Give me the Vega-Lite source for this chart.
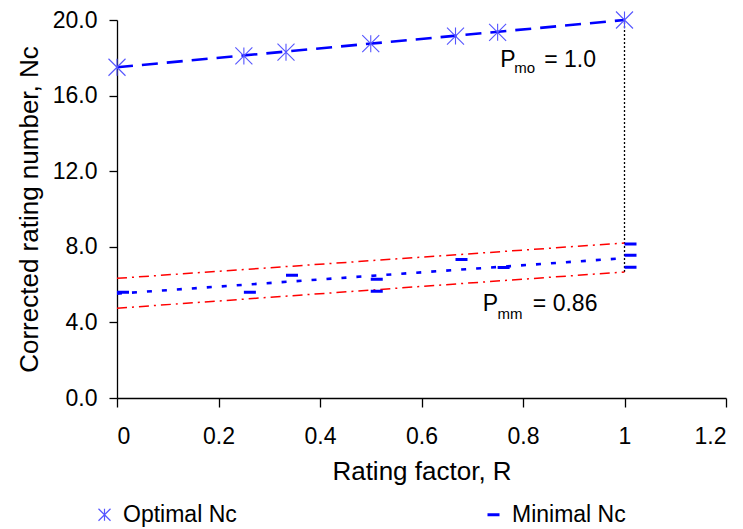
{
  "$schema": "https://vega.github.io/schema/vega-lite/v6.json",
  "autosize": {"type": "none"},
  "padding": {"left": 117, "top": 20, "right": 17, "bottom": 131},
  "width": 609,
  "height": 378,
  "config": {
    "view": {"stroke": null},
    "font": "Liberation Sans",
    "axis": {
      "grid": false,
      "domainColor": "#000000",
      "tickColor": "#000000",
      "labelColor": "#000000",
      "titleColor": "#000000",
      "labelFont": "Liberation Sans",
      "titleFont": "Liberation Sans",
      "labelFontSize": 23,
      "titleFontSize": 26,
      "titleFontWeight": "normal",
      "domainWidth": 1.3,
      "tickWidth": 1.3
    }
  },
  "datasets": {
    "points": [
      {"R": 0, "Nc": 17.5, "series": "Optimal Nc"},
      {"R": 0.25, "Nc": 18.1, "series": "Optimal Nc"},
      {"R": 0.333, "Nc": 18.3, "series": "Optimal Nc"},
      {"R": 0.5, "Nc": 18.75, "series": "Optimal Nc"},
      {"R": 0.667, "Nc": 19.15, "series": "Optimal Nc"},
      {"R": 0.75, "Nc": 19.35, "series": "Optimal Nc"},
      {"R": 1.0, "Nc": 20.0, "series": "Optimal Nc"},
      {"R": 0, "Nc": 5.6, "series": "Minimal Nc"},
      {"R": 0.25, "Nc": 5.6, "series": "Minimal Nc"},
      {"R": 0.333, "Nc": 6.5, "series": "Minimal Nc"},
      {"R": 0.5, "Nc": 6.28, "series": "Minimal Nc"},
      {"R": 0.5, "Nc": 5.65, "series": "Minimal Nc"},
      {"R": 0.667, "Nc": 7.33, "series": "Minimal Nc"},
      {"R": 0.75, "Nc": 6.9, "series": "Minimal Nc"},
      {"R": 1.0, "Nc": 8.15, "series": "Minimal Nc"},
      {"R": 1.0, "Nc": 7.55, "series": "Minimal Nc"},
      {"R": 1.0, "Nc": 6.92, "series": "Minimal Nc"}
    ],
    "lines": [
      {"R": 0, "Nc": 17.5, "line": "opt"},
      {"R": 1, "Nc": 20.0, "line": "opt"},
      {"R": 0, "Nc": 5.52, "line": "min"},
      {"R": 1, "Nc": 7.4, "line": "min"},
      {"R": 0, "Nc": 6.33, "line": "upper"},
      {"R": 1, "Nc": 8.2, "line": "upper"},
      {"R": 0, "Nc": 4.75, "line": "lower"},
      {"R": 1, "Nc": 6.67, "line": "lower"},
      {"R": 1, "Nc": 6.67, "line": "vert"},
      {"R": 1, "Nc": 20.0, "line": "vert"}
    ],
    "mainText": [
      {"R": 0.755, "Nc": 17.9, "label": "P"},
      {"R": 0.8417, "Nc": 17.9, "label": "= 1.0"},
      {"R": 0.7209, "Nc": 4.95, "label": "P"},
      {"R": 0.8194, "Nc": 4.95, "label": "= 0.86"}
    ],
    "subText": [
      {"R": 0.7826, "Nc": 17.45, "label": "mo"},
      {"R": 0.7497, "Nc": 4.45, "label": "mm"}
    ]
  },
  "encoding": {
    "x": {
      "field": "R", "type": "quantitative",
      "scale": {"domain": [0, 1.2], "nice": false},
      "axis": {"values": [0, 0.2, 0.4, 0.6, 0.8, 1, 1.2], "format": "~g", "title": "Rating factor, R", "tickSize": 9, "labelPadding": 18, "titlePadding": 10}
    },
    "y": {
      "field": "Nc", "type": "quantitative",
      "scale": {"domain": [0, 20], "nice": false},
      "axis": {"values": [0, 4, 8, 12, 16, 20], "format": ".1f", "title": "Corrected rating number, Nᴄ", "tickSize": 8, "labelPadding": 12, "titlePadding": 10}
    }
  },
  "layer": [
    {
      "data": {"name": "lines"},
      "transform": [{"filter": "datum.line === 'vert'"}],
      "mark": {"type": "line", "color": "#000000", "strokeWidth": 1.3, "strokeDash": [2, 2]}
    },
    {
      "data": {"name": "lines"},
      "transform": [{"filter": "datum.line === 'opt'"}],
      "mark": {"type": "line", "color": "#0000ff", "strokeWidth": 2.6, "strokeDash": [16, 9]}
    },
    {
      "data": {"name": "lines"},
      "transform": [{"filter": "datum.line === 'min'"}],
      "mark": {"type": "line", "color": "#0000ff", "strokeWidth": 2.6, "strokeDash": [5, 10]}
    },
    {
      "data": {"name": "lines"},
      "transform": [{"filter": "datum.line === 'upper' || datum.line === 'lower'"}],
      "mark": {"type": "line", "color": "#ff0000", "strokeWidth": 1.5, "strokeDash": [10, 5, 2, 5]},
      "encoding": {"detail": {"field": "line"}}
    },
    {
      "data": {"name": "points"},
      "transform": [{"filter": "datum.series === 'Optimal Nc'"}],
      "mark": {"type": "point", "filled": false, "strokeWidth": 1.1, "size": 289, "opacity": 1},
      "encoding": {
        "shape": {"field": "series", "type": "nominal", "scale": {"domain": ["Optimal Nc", "Minimal Nc"], "range": ["M-1,-1L1,1M-1,1L1,-1M0,-1L0,1", "M-1,-0.15L1,-0.15M-1,0L1,0M-1,0.15L1,0.15"]}},
        "color": {
          "field": "series", "type": "nominal",
          "scale": {"domain": ["Optimal Nc", "Minimal Nc"], "range": ["#5555ff", "#0000ff"]},
          "legend": {
            "orient": "none", "legendX": -24, "legendY": 483, "direction": "horizontal",
            "title": null, "labelFontSize": 23, "labelFont": "Liberation Sans", "labelColor": "#000000",
            "columnPadding": 245, "symbolSize": 144, "symbolStrokeWidth": 1.2, "symbolOpacity": 1, "labelOffset": 7
          }
        }
      }
    },
    {
      "data": {"name": "points"},
      "transform": [{"filter": "datum.series === 'Minimal Nc'"}],
      "mark": {"type": "point", "filled": false, "strokeWidth": 1.2, "size": 144, "opacity": 1, "xOffset": 6},
      "encoding": {
        "shape": {"field": "series", "type": "nominal"},
        "color": {"field": "series", "type": "nominal"}
      }
    },
    {
      "data": {"name": "mainText"},
      "mark": {"type": "text", "align": "left", "baseline": "middle", "fontSize": 23, "font": "Liberation Sans", "color": "#000000"},
      "encoding": {"text": {"field": "label"}}
    },
    {
      "data": {"name": "subText"},
      "mark": {"type": "text", "align": "left", "baseline": "middle", "fontSize": 15, "font": "Liberation Sans", "color": "#000000"},
      "encoding": {"text": {"field": "label"}}
    }
  ]
}
